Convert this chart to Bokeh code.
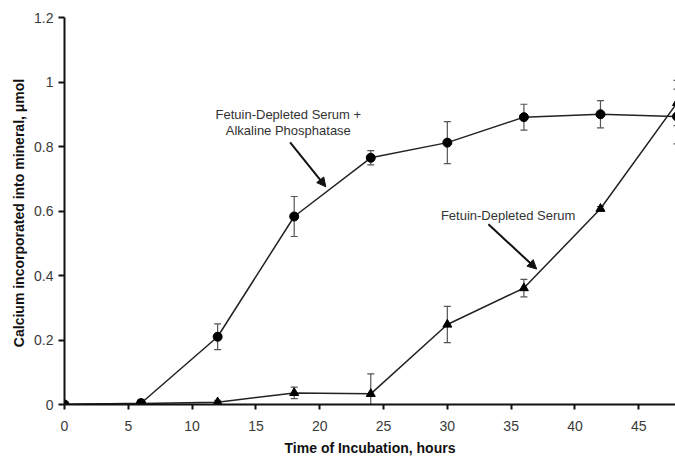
from bokeh.plotting import figure
from bokeh.models import (Range1d, FixedTicker, NumeralTickFormatter, ColumnDataSource,
                          Whisker, TeeHead, Label, Arrow, NormalHead)
from bokeh.embed import file_html
from bokeh.resources import INLINE

# ---- data ----
hours = [0, 6, 12, 18, 24, 30, 36, 42, 48]
alp_mean = [0.0, 0.004, 0.21, 0.583, 0.765, 0.812, 0.891, 0.900, 0.893]
alp_err = [0.0, 0.012, 0.04, 0.062, 0.022, 0.065, 0.04, 0.042, 0.085]
fds_mean = [0.0, 0.003, 0.007, 0.036, 0.033, 0.248, 0.361, 0.607, 0.935]
fds_err = [0.0, 0.004, 0.006, 0.018, 0.062, 0.056, 0.027, 0.007, 0.07]

x_ticks = [0, 5, 10, 15, 20, 25, 30, 35, 40, 45]
y_ticks = [0, 0.2, 0.4, 0.6, 0.8, 1.0, 1.2]

label_alp = ["Fetuin-Depleted Serum +", "Alkaline Phosphatase"]
label_fds = "Fetuin-Depleted Serum"

FONT = "Liberation Sans"

p = figure(width=675, height=458, output_backend="svg", toolbar_location=None,
           x_range=Range1d(0, 47.88), y_range=Range1d(0, 1.2),
           min_border_left=64, min_border_right=0, min_border_top=17, min_border_bottom=52)
p.outline_line_color = None
p.xgrid.visible = False
p.ygrid.visible = False
p.background_fill_color = "white"
p.border_fill_color = "white"

for ax in (p.xaxis[0], p.yaxis[0]):
    ax.axis_line_color = "#111111"
    ax.axis_line_width = 2
    ax.major_tick_line_color = "#111111"
    ax.major_tick_line_width = 2
    ax.major_tick_in = 0
    ax.minor_tick_line_color = None
    ax.major_label_text_font = FONT
    ax.major_label_text_font_size = "14px"
    ax.major_label_text_color = "#3a3a3a"
    ax.axis_label_text_font = FONT
    ax.axis_label_text_font_size = "14px"
    ax.axis_label_text_font_style = "bold"
    ax.axis_label_text_color = "#111111"

p.xaxis.ticker = FixedTicker(ticks=x_ticks)
p.yaxis.ticker = FixedTicker(ticks=y_ticks)
p.yaxis.formatter = NumeralTickFormatter(format="0.[0]")
p.xaxis.major_tick_out = 5
p.yaxis.major_tick_out = 6
p.xaxis.major_label_standoff = 11
p.yaxis.major_label_standoff = 5
p.xaxis.axis_label = "Time of Incubation, hours"
p.yaxis.axis_label = "Calcium incorporated into mineral,  \u03bcmol"
p.xaxis.axis_label_standoff = 6
p.yaxis.axis_label_standoff = 4

src_a = ColumnDataSource(dict(x=hours, y=alp_mean,
                              lo=[m - e for m, e in zip(alp_mean, alp_err)],
                              hi=[m + e for m, e in zip(alp_mean, alp_err)]))
src_f = ColumnDataSource(dict(x=hours, y=fds_mean,
                              lo=[m - e for m, e in zip(fds_mean, fds_err)],
                              hi=[m + e for m, e in zip(fds_mean, fds_err)]))

for src in (src_a, src_f):
    w = Whisker(source=src, base="x", upper="hi", lower="lo", dimension="height",
                line_color="#555555", line_width=1.2,
                upper_head=TeeHead(size=7, line_color="#555555", line_width=1.2),
                lower_head=TeeHead(size=7, line_color="#555555", line_width=1.2))
    p.add_layout(w)

p.line("x", "y", source=src_a, line_color="#222222", line_width=1.5)
p.line("x", "y", source=src_f, line_color="#222222", line_width=1.5)
p.scatter("x", "y", source=src_a, marker="circle", size=9, fill_color="black", line_color="black")
p.scatter("x", "y", source=src_f, marker="triangle", size=9, fill_color="black", line_color="black")

# annotations
for i, t in enumerate(label_alp):
    p.add_layout(Label(x=17.54, y=0.898 - i * 0.049, text=t, text_align="center",
                       text_baseline="middle", text_font=FONT, text_font_size="13px",
                       text_color="#333333"))
p.add_layout(Label(x=34.76, y=0.586, text=label_fds, text_align="center",
                   text_baseline="middle", text_font=FONT, text_font_size="13px",
                   text_color="#333333"))

p.add_layout(Arrow(x_start=17.68, y_start=0.813, x_end=20.48, y_end=0.675,
                   line_color="#111111", line_width=2,
                   end=NormalHead(size=9, fill_color="#111111", line_color="#111111")))
p.add_layout(Arrow(x_start=33.22, y_start=0.559, x_end=37.0, y_end=0.420,
                   line_color="#111111", line_width=2,
                   end=NormalHead(size=9, fill_color="#111111", line_color="#111111")))

open("out.html", "w").write(file_html(p, INLINE))
